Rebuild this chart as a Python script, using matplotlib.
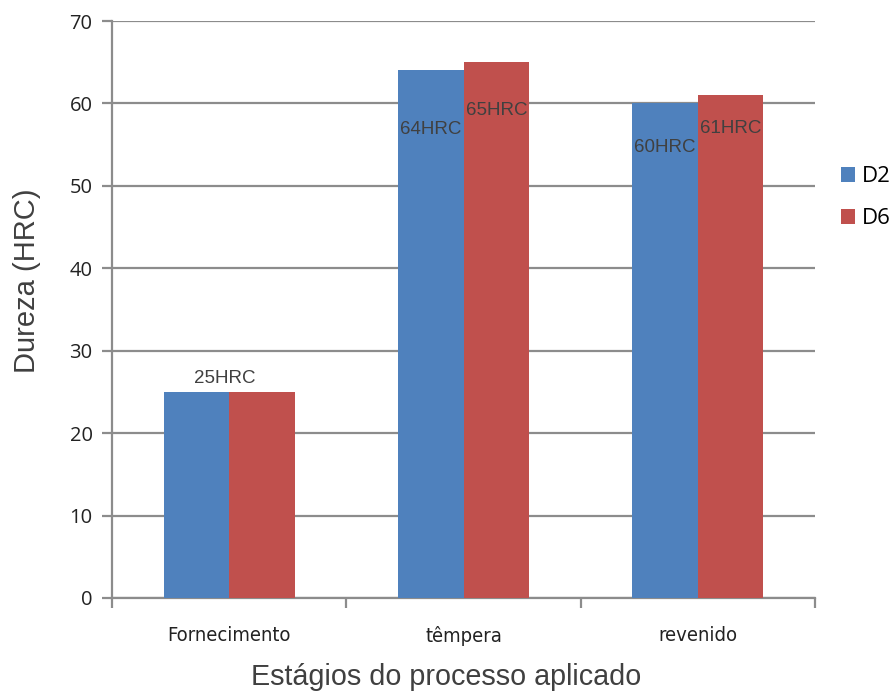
import matplotlib
matplotlib.use("Agg")
import matplotlib.pyplot as plt
import numpy as np
from matplotlib.patches import Patch

# Hardness per process stage
stages = ["Fornecimento", "têmpera", "revenido"]
series_names = ["D2", "D6"]
d2_values = [25, 64, 60]
d6_values = [25, 65, 61]

# Value label texts and their heights
labels_d2 = ["25HRC", "64HRC", "60HRC"]
labels_d6 = [None, "65HRC", "61HRC"]
label_y_d2 = [26.6, 56.8, 54.6]
label_y_d6 = [None, 59.1, 57.0]

colors = ["#4F81BD", "#C0504D"]
grid_color = "#8C8C8C"
text_color = "#404040"

fig = plt.figure(figsize=(8.96, 6.91), dpi=100)
ax = fig.add_axes([0.125, 0.1346, 0.7846, 0.835])

x = np.arange(len(stages))
width = 0.28
ax.bar(x - width / 2, d2_values, width, color=colors[0], zorder=3)
ax.bar(x + width / 2, d6_values, width, color=colors[1], zorder=3)

ax.set_xlim(-0.5, len(stages) - 0.5)
ax.set_ylim(0, 70)
ax.set_yticks(range(0, 71, 10))
ax.yaxis.grid(True, color=grid_color, linewidth=1.6, zorder=0)
ax.set_axisbelow(True)

# Category ticks at boundaries, labels at centers
ax.set_xticks(np.arange(-0.5, len(stages), 1.0))
ax.set_xticklabels([])
ax.set_xticks(x, minor=True)
ax.set_xticklabels(stages, minor=True, fontsize=14.5,
                   family="DejaVu Sans", fontstretch="condensed", color="#222222")
ax.tick_params(axis="x", which="minor", length=0, pad=20)
ax.tick_params(axis="x", which="major", length=7, width=1.6, color=grid_color)
ax.tick_params(axis="y", length=7, width=1.6, color=grid_color, pad=7,
               labelsize=14.5, labelcolor="#222222")
for lbl in ax.get_yticklabels():
    lbl.set_family("Open Sans")

for side in ["top", "right"]:
    ax.spines[side].set_visible(False)
for side in ["left", "bottom"]:
    ax.spines[side].set_color(grid_color)
    ax.spines[side].set_linewidth(1.6)

# Value labels
lab_kw = dict(fontsize=13.5, family="Liberation Sans", color=text_color,
              ha="center", va="center", zorder=5)
for i in range(len(stages)):
    if labels_d2[i]:
        xp = x[i] - width / 2
        if i == 0:
            xp = x[i] - 0.02
        ax.text(xp, label_y_d2[i], labels_d2[i], **lab_kw)
    if labels_d6[i]:
        ax.text(x[i] + width / 2, label_y_d6[i], labels_d6[i], **lab_kw)

ax.set_ylabel("Dureza (HRC)", fontsize=21, family="Liberation Sans",
              color=text_color)
ax.yaxis.set_label_coords(-0.101, 0.549)
ax.set_xlabel("Estágios do processo aplicado", fontsize=20.7,
              family="Liberation Sans", color=text_color)
ax.xaxis.set_label_coords(0.475, -0.113)

handles = [Patch(facecolor=c, edgecolor="none") for c in colors]
leg = fig.legend(handles, series_names, loc="center left",
                 bbox_to_anchor=(0.916, 0.714), frameon=False,
                 handlelength=0.63, handleheight=0.63, handletextpad=0.3,
                 labelspacing=0.95, prop={"family": "Open Sans", "size": 16})

fig.savefig("out.png", dpi=100)
